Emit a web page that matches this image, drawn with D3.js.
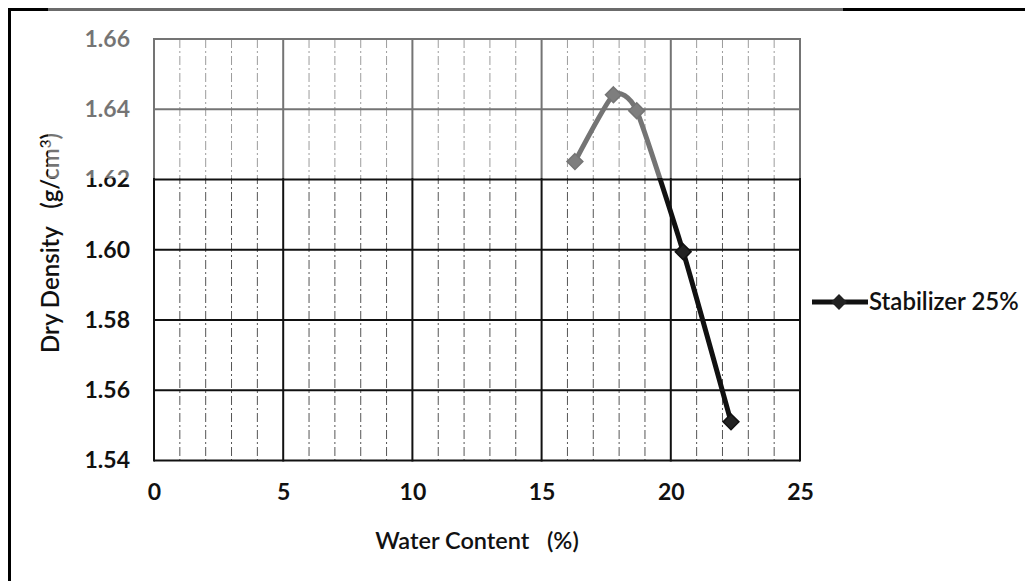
<!DOCTYPE html>
<html>
<head>
<meta charset="utf-8">
<script src="https://cdn.jsdelivr.net/npm/d3@7"></script>
<style>
  html, body { margin: 0; padding: 0; background: #fff; }
  svg { display: block; }
  text { font-family: Lato, "Open Sans", sans-serif; fill: #111; }
</style>
</head>
<body>
<svg id="chart" width="1025" height="581"></svg>
<script>
// Compaction test: water content (%) vs dry density (g/cm³)
const waterContent = [16.29, 17.78, 18.68, 20.48, 22.33];
const dryDensity   = [1.6251, 1.6441, 1.6396, 1.5994, 1.5510];
const seriesName   = "Stabilizer 25%";

const xTicks = [0, 5, 10, 15, 20, 25];
const yTicks = [1.54, 1.56, 1.58, 1.60, 1.62, 1.64, 1.66];
const xMinor = d3.range(0, 26, 1);

const svg = d3.select("#chart");
const W = 1025, H = 581;

const x = d3.scaleLinear().domain([0, 25]).range([154, 800]);
const y = d3.scaleLinear().domain([1.54, 1.66]).range([460.5, 39]);

// chart-area frame (left and top edges)
svg.append("line").attr("x1", 9.5).attr("x2", 9.5).attr("y1", 8).attr("y2", H)
  .attr("stroke", "#000").attr("stroke-width", 3);
svg.append("line").attr("x1", 8).attr("x2", W).attr("y1", 9.5).attr("y2", 9.5)
  .attr("stroke", "#000").attr("stroke-width", 3);

const grid = svg.append("g");

// minor vertical gridlines (every 1 %)
grid.selectAll("line.minor")
  .data(xMinor.filter(d => d % 5 !== 0))
  .join("line")
  .attr("class", "minor")
  .attr("x1", d => x(d)).attr("x2", d => x(d))
  .attr("y1", y(1.66)).attr("y2", y(1.54))
  .attr("stroke", "#555").attr("stroke-width", 1)
  .attr("stroke-dasharray", "9,3,2,3");

// major horizontal gridlines
grid.selectAll("line.hmajor")
  .data(yTicks)
  .join("line")
  .attr("class", "hmajor")
  .attr("x1", x(0)).attr("x2", x(25))
  .attr("y1", d => y(d)).attr("y2", d => y(d))
  .attr("stroke", "#111").attr("stroke-width", 2);

// major vertical gridlines
grid.selectAll("line.vmajor")
  .data(xTicks)
  .join("line")
  .attr("class", "vmajor")
  .attr("x1", d => x(d)).attr("x2", d => x(d))
  .attr("y1", y(1.66) - 1).attr("y2", y(1.54) + 1)
  .attr("stroke", "#111").attr("stroke-width", 2);

// axes (labels only; lines come from the grid)
const xAxis = svg.append("g")
  .attr("transform", `translate(0,${y(1.54)})`)
  .call(d3.axisBottom(x).tickValues(xTicks).tickSize(0).tickPadding(23).tickFormat(d3.format("d")));
xAxis.select(".domain").remove();
xAxis.selectAll("text")
  .style("font-size", "23px").style("font-weight", "bold")
  .style("font-family", "Lato, sans-serif").attr("fill", "#111");

const yAxis = svg.append("g")
  .attr("transform", `translate(${x(0)},0)`)
  .call(d3.axisLeft(y).tickValues(yTicks).tickSize(0).tickPadding(24).tickFormat(d3.format(".2f")));
yAxis.select(".domain").remove();
yAxis.selectAll("text")
  .style("font-size", "23px").style("font-weight", "bold")
  .style("font-family", "Lato, sans-serif").attr("fill", "#111");

// axis titles
svg.append("text")
  .attr("x", 477).attr("y", 549)
  .attr("text-anchor", "middle")
  .style("font-size", "23.5px").style("font-weight", 600)
  .style("white-space", "pre")
  .text("Water Content   (%)");

const yt = svg.append("text")
  .attr("transform", "translate(59,243) rotate(-90)")
  .attr("text-anchor", "middle")
  .style("font-size", "24px").style("font-weight", 600)
  .style("white-space", "pre");
yt.append("tspan").text("Dry Density   (g/cm");
yt.append("tspan").attr("dy", -8).style("font-size", "15px").text("3");
yt.append("tspan").attr("dy", 8).text(")");

// data series: smoothed line with diamond markers
const pts = waterContent.map((w, i) => [w, dryDensity[i]]);
const line = d3.line()
  .x(d => x(d[0])).y(d => y(d[1]))
  .curve(d3.curveCardinal.tension(0.45));

svg.append("path")
  .datum(pts)
  .attr("d", line)
  .attr("fill", "none")
  .attr("stroke", "#111")
  .attr("stroke-width", 5)
  .attr("stroke-linejoin", "round");

const diamond = d3.symbol().type(d3.symbolDiamond2).size(160);
svg.selectAll("path.marker")
  .data(pts)
  .join("path")
  .attr("class", "marker")
  .attr("transform", d => `translate(${x(d[0])},${y(d[1])})`)
  .attr("d", diamond)
  .attr("fill", "#222")
  .attr("stroke", "#111")
  .attr("stroke-width", 1.5);

// legend
const lg = svg.append("g").attr("transform", "translate(812,302)");
lg.append("line").attr("x1", 0).attr("x2", 56).attr("y1", 0).attr("y2", 0)
  .attr("stroke", "#111").attr("stroke-width", 5);
lg.append("path").attr("transform", "translate(27,0)").attr("d", diamond).attr("fill", "#222");
lg.append("text").attr("x", 57).attr("y", 8)
  .style("font-size", "24px").style("font-weight", 600)
  .text(seriesName);

// faded band across the upper part of the page
svg.append("rect")
  .attr("x", 48).attr("y", 0).attr("width", 795).attr("height", 178)
  .attr("fill", "#fff").attr("opacity", 0.42);
</script>
</body>
</html>
